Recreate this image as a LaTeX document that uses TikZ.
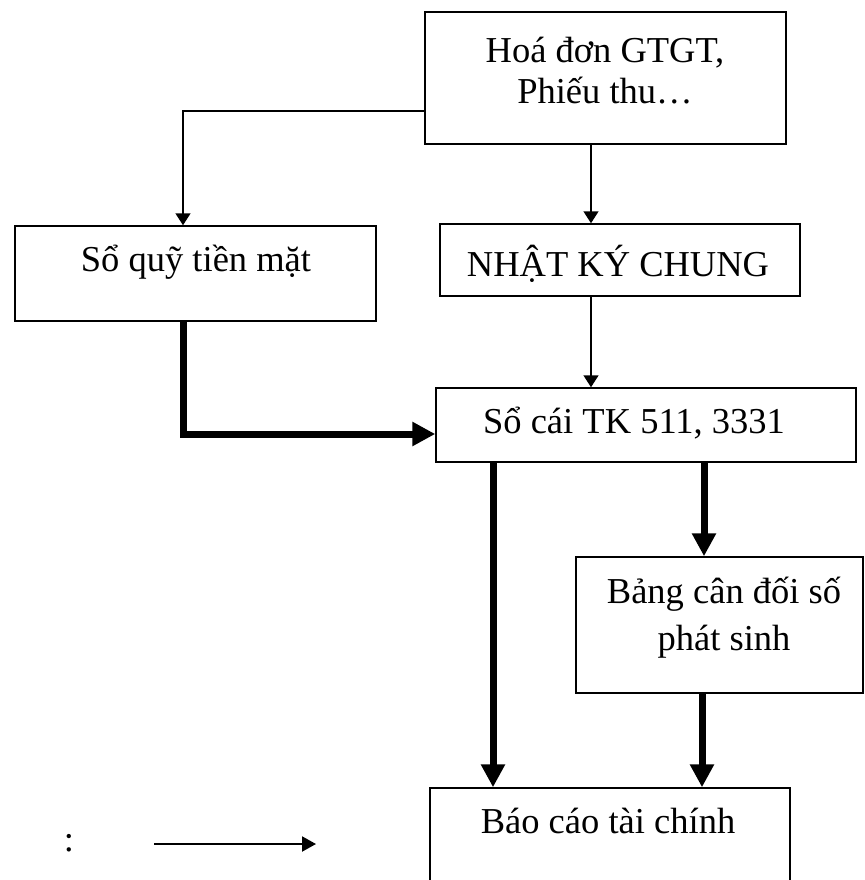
\documentclass[tikz,border=0pt]{standalone}
\usepackage{fontspec}
\setmainfont{Liberation Serif}
\usetikzlibrary{arrows.meta}

\tikzset{
  box/.style={draw, line width=1.5pt, rectangle, inner sep=0pt},
  lbl/.style={inner sep=0pt, anchor=base, font=\fontsize{36.5}{40}\selectfont},
  thinarr/.style={line width=1.6pt, -{Triangle[length=12pt, width=15pt]}},
  thickarr/.style={line width=7pt, line join=miter, -{Triangle[length=23pt, width=23pt]}},
  legarr/.style={line width=2pt, -{Triangle[length=14pt, width=15pt]}}
}

\begin{document}
\begin{tikzpicture}[x=1pt, y=-1pt]
  \useasboundingbox (0,0) rectangle (864,880);
  \clip (0,0) rectangle (864,880);
  \fill[white] (0,0) rectangle (864,880);

  % boxes
  \node[box, minimum width=361pt, minimum height=132pt] (hd) at (605.5,78) {};
  \node[box, minimum width=361pt, minimum height=95pt]  (sq) at (195.5,273.5) {};
  \node[box, minimum width=360pt, minimum height=72pt]  (nk) at (620,260) {};
  \node[box, minimum width=420pt, minimum height=74pt]  (sc) at (646,425) {};
  \node[box, minimum width=287pt, minimum height=136pt] (bd) at (719.5,625) {};
  \node[box, minimum width=360pt, minimum height=120pt] (bc) at (610,848) {};

  % box texts
  \node[lbl] (hdA) at (605,63)  {Hoá đơn GTGT,};
  \node[lbl] (hdB) at (605,103) {Phiếu thu…};
  \node[lbl] (sqT) at (196,271) {Sổ quỹ tiền mặt};
  \node[lbl] (nkT) at (618,276) {NHẬT KÝ CHUNG};
  \node[lbl] (scT) at (634,433) {Sổ cái TK 511, 3331};
  \node[lbl] (bdA) at (724,603) {Bảng cân đối số};
  \node[lbl] (bdB) at (724,650) {phát sinh};
  \node[lbl] (bcT) at (608,833) {Báo cáo tài chính};

  % bend points
  \coordinate (c1) at (183,111);
  \coordinate (c2) at (183,434);
  \coordinate (xm) at (591,0);
  \coordinate (xl) at (493,0);
  \coordinate (xr) at (704,0);
  \coordinate (xb) at (702,0);

  % thin connectors
  \draw[thinarr] (hd.west |- c1) -- (c1) -- (sq.north -| c1);
  \draw[thinarr] (hd.south -| xm) -- (nk.north -| xm);
  \draw[thinarr] (nk.south -| xm) -- (sc.north -| xm);

  % thick connectors
  \draw[thickarr] (sq.south -| c2) -- (c2) -- (sc.west |- c2);
  \draw[thickarr] (sc.south -| xr) -- (bd.north -| xr);
  \draw[thickarr] (sc.south -| xl) -- (bc.north -| xl);
  \draw[thickarr] (bd.south -| xb) -- (bc.north -| xb);

  % legend
  \node[lbl] (colon) at (69,851) {:};
  \coordinate (l1) at (154,844);
  \coordinate (l2) at (316,844);
  \draw[legarr] (l1) -- (l2);
\end{tikzpicture}
\end{document}
